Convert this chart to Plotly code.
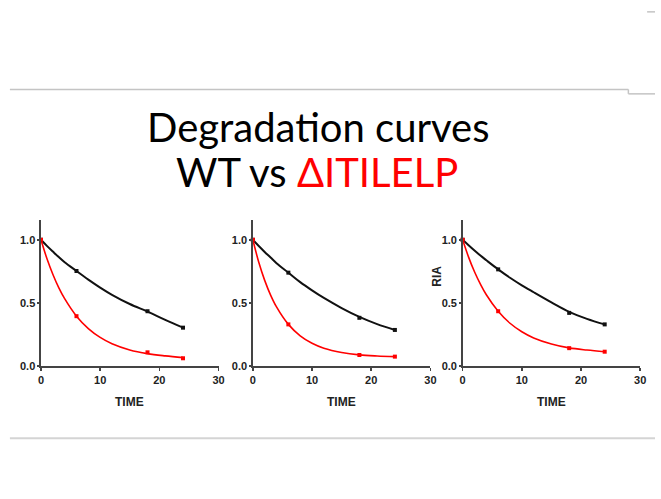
import plotly.graph_objects as go

# ---------------- data ----------------
time_pts = [0, 6, 18, 24]
wt_pts = [
    [1.0, 0.753, 0.435, 0.305],
    [1.0, 0.740, 0.383, 0.287],
    [1.0, 0.766, 0.422, 0.331],
]
mut_pts = [
    [1.0, 0.396, 0.110, 0.063],
    [1.0, 0.331, 0.089, 0.076],
    [1.0, 0.435, 0.143, 0.115],
]
# fitted curves
time_fit = [0, 1, 2, 3, 4, 6, 8, 10, 12, 15, 18, 21, 24]
wt_fit = [
    [1.0, 0.952, 0.907, 0.863, 0.822, 0.753, 0.685, 0.622, 0.565, 0.492, 0.432, 0.367, 0.305],
    [1.0, 0.951, 0.904, 0.860, 0.815, 0.740, 0.665, 0.600, 0.540, 0.460, 0.390, 0.333, 0.287],
    [1.0, 0.957, 0.915, 0.875, 0.838, 0.766, 0.700, 0.640, 0.585, 0.505, 0.430, 0.375, 0.331],
]
mut_fit = [
    [1.0, 0.852, 0.728, 0.622, 0.534, 0.396, 0.298, 0.228, 0.178, 0.129, 0.100, 0.082, 0.068],
    [1.0, 0.822, 0.679, 0.563, 0.469, 0.331, 0.241, 0.182, 0.143, 0.109, 0.090, 0.081, 0.076],
    [1.0, 0.863, 0.747, 0.649, 0.565, 0.435, 0.340, 0.273, 0.224, 0.176, 0.145, 0.128, 0.115],
]
x_ticks = [0, 10, 20, 30]
y_ticks = [0, 0.5, 1.0]
y_tick_text = ["0.0", "0.5", "1.0"]
title_line1 = "Degradation curves"
title_line2a = "WT vs "
title_line2b = "ΔITILELP"
x_label = "TIME"
y_label = "RIA"

# ---------------- layout helpers ----------------
W, H = 661, 499
def px(x):
    return x / W
def py(y):
    return 1 - y / H

x0_px = [38.5, 253.3, 466]
x_span_px = 180
y0_px, y1_px, ytop_px = 370.7, 242.7, 223
y_max = (y0_px - ytop_px) / (y0_px - y1_px)

fig = go.Figure()
narrow = "Liberation Sans Narrow, Arial Narrow, Liberation Sans, Arial"
tick_font = dict(family=narrow, size=11, color="#222", weight="bold")
axis_col = "#444"

for i in range(3):
    xa = "x" if i == 0 else f"x{i+1}"
    ya = "y" if i == 0 else f"y{i+1}"
    fig.add_trace(go.Scatter(x=time_fit, y=wt_fit[i], mode="lines", line=dict(color="#111", width=2, shape="spline"),
                             xaxis=xa, yaxis=ya, showlegend=False, hoverinfo="skip", cliponaxis=False))
    fig.add_trace(go.Scatter(x=time_fit, y=mut_fit[i], mode="lines", line=dict(color="#ff0000", width=1.6, shape="spline"),
                             xaxis=xa, yaxis=ya, showlegend=False, hoverinfo="skip", cliponaxis=False))
    fig.add_trace(go.Scatter(x=time_pts, y=wt_pts[i], mode="markers", marker=dict(color="#111", size=4, symbol="square"),
                             xaxis=xa, yaxis=ya, showlegend=False, cliponaxis=False))
    fig.add_trace(go.Scatter(x=time_pts, y=mut_pts[i], mode="markers", marker=dict(color="#ff0000", size=4, symbol="square"),
                             xaxis=xa, yaxis=ya, showlegend=False, cliponaxis=False))

    xkey = "xaxis" if i == 0 else f"xaxis{i+1}"
    ykey = "yaxis" if i == 0 else f"yaxis{i+1}"
    fig.update_layout(**{
        xkey: dict(domain=[px(x0_px[i]), px(x0_px[i] + x_span_px)], range=[0, 30], anchor=ya,
                   showline=True, linecolor=axis_col, linewidth=1.5, ticks="outside", ticklen=3,
                   tickwidth=1.5, tickcolor=axis_col, tickvals=x_ticks, showgrid=False, zeroline=False,
                   tickfont=tick_font, fixedrange=True),
        ykey: dict(domain=[py(y0_px), py(ytop_px)], range=[0, y_max], anchor=xa,
                   showline=True, linecolor=axis_col, linewidth=1.5, ticks="outside", ticklen=2,
                   tickwidth=1.5, tickcolor=axis_col, tickvals=y_ticks, ticktext=y_tick_text,
                   showgrid=False, zeroline=False, tickfont=tick_font, fixedrange=True),
    })
    fig.add_annotation(x=px(x0_px[i] + x_span_px / 2), y=py(407), xref="paper", yref="paper",
                       text=x_label, showarrow=False, xanchor="center", yanchor="middle",
                       font=dict(family=narrow, size=12, color="#222", weight="bold"))

fig.add_annotation(x=px(440), y=py(280), xref="paper", yref="paper", text=y_label, showarrow=False,
                   textangle=-90, xanchor="center", yanchor="middle",
                   font=dict(family=narrow, size=12, color="#222", weight="bold"))

title_font = dict(family="Lato, Carlito, Calibri, sans-serif", size=40, color="#000")
fig.add_annotation(x=px(320), y=py(129), xref="paper", yref="paper", text=title_line1, showarrow=False,
                   xanchor="center", yanchor="middle", font=title_font)
fig.add_annotation(x=px(318), y=py(174), xref="paper", yref="paper",
                   text=title_line2a + "<span style='color:#ff0000'>" + title_line2b + "</span>", showarrow=False,
                   xanchor="center", yanchor="middle", font=title_font)

# decorative slide lines
line_style = dict(color="#c4c4c4", width=1.5)
fig.add_shape(type="line", xref="paper", yref="paper", x0=px(7), x1=px(634), y0=py(90.5), y1=py(90.5), line=line_style)
fig.add_shape(type="line", xref="paper", yref="paper", x0=px(634), x1=px(634), y0=py(90.5), y1=py(95), line=line_style)
fig.add_shape(type="line", xref="paper", yref="paper", x0=px(634), x1=px(661), y0=py(95), y1=py(95), line=line_style)
fig.add_shape(type="line", xref="paper", yref="paper", x0=px(653), x1=px(661), y0=py(12), y1=py(12), line=line_style)
fig.add_shape(type="line", xref="paper", yref="paper", x0=px(7), x1=px(661), y0=py(443.5), y1=py(443.5),
              line=dict(color="#d4d4d4", width=2))

fig.update_layout(width=W, height=H, autosize=False, margin=dict(l=0, r=0, t=0, b=0),
                  paper_bgcolor="white", plot_bgcolor="white", showlegend=False)

# remove the default page margin so the figure fills the window exactly
fig.write_html("out.html", config={"displayModeBar": False, "staticPlot": True},
               post_script="document.body.style.margin='0';document.body.style.overflow='hidden';")
